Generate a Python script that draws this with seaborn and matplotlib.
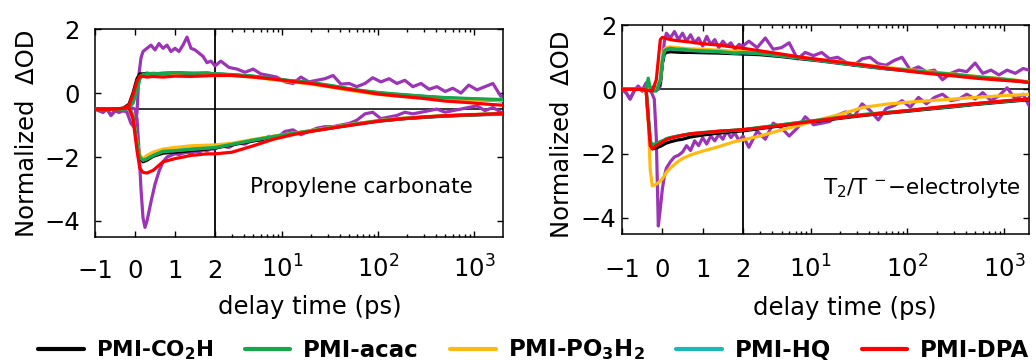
import numpy as np
import pandas as pd
import matplotlib
matplotlib.use("Agg")
import matplotlib.pyplot as plt
import seaborn as sns
from matplotlib.ticker import FixedLocator, NullFormatter
from matplotlib.lines import Line2D

# ---------------------------------------------------------------- data
# Propylene carbonate panel (left) -- smooth traces
PC_T = [-1.0, -0.6, -0.3, -0.15, -0.05, 0.05, 0.12, 0.2, 0.3, 0.45, 0.7, 1.0, 1.4, 1.8, 2.0,
        3, 5, 8, 13, 20, 35, 60, 100, 170, 300, 500, 900, 1400, 2000]
PC_CO2H_UP = [-0.5, -0.5, -0.48, -0.35, 0.0, 0.45, 0.6, 0.6, 0.62, 0.6, 0.62, 0.63, 0.62, 0.62, 0.6,
              0.57, 0.52, 0.44, 0.37, 0.32, 0.2, 0.08, -0.01, -0.06, -0.11, -0.16, -0.19, -0.22, -0.24]
PC_ACAC_UP = [-0.5, -0.5, -0.5, -0.45, -0.3, 0.1, 0.45, 0.58, 0.6, 0.62, 0.6, 0.64, 0.6, 0.63, 0.6,
              0.58, 0.53, 0.45, 0.38, 0.33, 0.22, 0.1, 0.02, -0.04, -0.1, -0.14, -0.17, -0.19, -0.2]
PC_PO3H2_UP = [-0.5, -0.5, -0.49, -0.42, -0.15, 0.3, 0.52, 0.56, 0.58, 0.55, 0.58, 0.6, 0.57, 0.6, 0.58,
               0.55, 0.5, 0.42, 0.35, 0.28, 0.17, 0.05, -0.04, -0.1, -0.14, -0.18, -0.21, -0.22, -0.23]
PC_HQ_UP = [-0.5, -0.5, -0.5, -0.46, -0.32, 0.08, 0.43, 0.57, 0.6, 0.6, 0.6, 0.62, 0.6, 0.62, 0.6,
            0.57, 0.52, 0.45, 0.38, 0.32, 0.21, 0.09, 0.01, -0.05, -0.1, -0.15, -0.18, -0.2, -0.21]
PC_DPA_UP = [-0.5, -0.5, -0.48, -0.38, -0.05, 0.38, 0.52, 0.52, 0.5, 0.52, 0.5, 0.53, 0.52, 0.54, 0.55,
             0.55, 0.5, 0.44, 0.36, 0.3, 0.18, 0.08, -0.03, -0.1, -0.17, -0.25, -0.3, -0.35, -0.38]
PC_CO2H_DN = [-0.5, -0.5, -0.48, -0.45, -0.7, -1.5, -2.0, -2.15, -2.1, -1.98, -1.88, -1.85, -1.8, -1.75, -1.72,
              -1.62, -1.5, -1.37, -1.27, -1.19, -1.08, -0.97, -0.88, -0.81, -0.76, -0.72, -0.69, -0.67, -0.65]
PC_ACAC_DN = [-0.5, -0.5, -0.5, -0.48, -0.75, -1.55, -2.0, -2.1, -2.05, -1.95, -1.82, -1.8, -1.75, -1.72, -1.7,
              -1.6, -1.47, -1.36, -1.26, -1.18, -1.07, -0.96, -0.87, -0.8, -0.75, -0.71, -0.68, -0.66, -0.64]
PC_PO3H2_DN = [-0.5, -0.5, -0.49, -0.46, -0.72, -1.5, -1.95, -2.05, -1.95, -1.85, -1.75, -1.7, -1.65, -1.63, -1.62,
               -1.57, -1.45, -1.35, -1.26, -1.17, -1.06, -0.95, -0.86, -0.79, -0.74, -0.7, -0.67, -0.66, -0.64]
PC_HQ_DN = [-0.5, -0.5, -0.5, -0.47, -0.74, -1.53, -2.0, -2.1, -2.05, -1.95, -1.83, -1.8, -1.76, -1.72, -1.7,
            -1.6, -1.47, -1.36, -1.26, -1.18, -1.07, -0.96, -0.87, -0.8, -0.75, -0.71, -0.68, -0.66, -0.64]
PC_DPA_DN = [-0.5, -0.5, -0.48, -0.45, -0.8, -1.8, -2.35, -2.48, -2.5, -2.42, -2.15, -2.05, -1.95, -1.9, -1.9,
             -1.85, -1.65, -1.45, -1.3, -1.2, -1.08, -0.98, -0.88, -0.81, -0.75, -0.71, -0.68, -0.66, -0.64]

# Propylene carbonate panel -- noisy purple reference traces
PC_TP = [-1.0, -0.9, -0.8, -0.7, -0.6, -0.5, -0.4, -0.3, -0.2, -0.1, 0.0, 0.05, 0.1, 0.15, 0.2, 0.25, 0.3,
         0.4, 0.5, 0.6, 0.7, 0.8, 0.9, 1.0, 1.1, 1.2, 1.3, 1.4, 1.5, 1.6, 1.7, 1.8, 1.9, 2.0,
         2.3, 2.8, 3.4, 4.1, 5, 6, 7.3, 8.8, 10.7, 13, 15.7, 19, 23, 28, 34, 41, 50, 60, 73, 88,
         107, 130, 157, 190, 230, 280, 340, 410, 500, 600, 730, 880, 1070, 1300, 1570, 1900]
PC_PURPLE_UP = [-0.5, -0.55, -0.6, -0.5, -0.7, -0.55, -0.6, -0.55, -0.6, -0.95, -1.1, -0.6, 0.6, 1.1, 1.3,
                1.35, 1.4, 1.5, 1.35, 1.55, 1.4, 1.5, 1.3, 1.4, 1.3, 1.5, 1.75, 1.4, 1.35, 1.25, 1.15, 0.95,
                1.0, 0.85,
                1.0, 0.8, 0.75, 0.65, 0.75, 0.6, 0.55, 0.5, 0.35, 0.3, 0.5, 0.35, 0.4, 0.45, 0.55, 0.28,
                0.3, 0.2, 0.3, 0.48, 0.35, 0.45, 0.3, 0.4, 0.2, 0.3, 0.12, 0.2, 0.05, 0.15, 0.0, 0.25,
                0.1, 0.2, 0.3, -0.1]
PC_PURPLE_DN = [-0.5, -0.55, -0.6, -0.5, -0.7, -0.55, -0.6, -0.55, -0.5, -0.45, -0.5, -0.8, -1.8, -3.0, -3.9,
                -4.2, -4.0, -3.4, -2.85, -2.45, -2.15, -2.0, -1.95, -1.9, -1.92, -1.88, -1.85, -1.9, -1.82,
                -1.85, -1.78, -1.8, -1.75, -1.75,
                -1.65, -1.7, -1.55, -1.6, -1.45, -1.5, -1.35, -1.4, -1.2, -1.15, -1.3, -1.2, -1.1, -1.05,
                -1.05, -1.0, -0.95, -0.85, -0.65, -0.6, -0.8, -0.75, -0.7, -0.6, -0.65, -0.6, -0.55, -0.5,
                -0.6, -0.55, -0.5, -0.45, -0.4, -0.55, -0.45, -0.6]

# T2/T- electrolyte panel (right) -- smooth traces
EL_T = [-1.0, -0.7, -0.5, -0.4, -0.35, -0.3, -0.25, -0.15, -0.05, 0.0, 0.05, 0.1, 0.2, 0.35, 0.5,
        0.7, 1.0, 1.4, 1.8, 2.0,
        3, 5, 8, 13, 20, 35, 60, 100, 170, 300, 500, 900, 1400, 1800]
EL_CO2H_UP = [0.0, 0.0, 0.0, 0.0, 0.02, 0.0, -0.02, -0.03, 0.2, 0.8, 1.1, 1.15, 1.17, 1.16, 1.15,
              1.15, 1.14, 1.13, 1.11, 1.1,
              1.08, 1.02, 0.95, 0.88, 0.81, 0.72, 0.64, 0.58, 0.51, 0.45, 0.38, 0.31, 0.26, 0.22]
EL_ACAC_UP = [0.0, 0.0, 0.0, 0.05, 0.35, 0.05, -0.05, -0.05, 0.3, 0.9, 1.2, 1.25, 1.28, 1.25, 1.25,
              1.22, 1.2, 1.18, 1.13, 1.15,
              1.12, 1.05, 0.98, 0.9, 0.83, 0.74, 0.66, 0.6, 0.53, 0.47, 0.4, 0.33, 0.27, 0.22]
EL_PO3H2_UP = [0.0, 0.0, 0.0, 0.0, 0.0, 0.0, -0.02, -0.02, 0.3, 0.95, 1.25, 1.3, 1.32, 1.3, 1.28,
               1.26, 1.25, 1.22, 1.18, 1.18,
               1.15, 1.07, 0.99, 0.92, 0.86, 0.77, 0.69, 0.62, 0.55, 0.48, 0.41, 0.34, 0.28, 0.24]
EL_HQ_UP = [0.0, 0.0, 0.0, 0.02, 0.1, 0.02, -0.03, -0.04, 0.28, 0.88, 1.18, 1.23, 1.26, 1.24, 1.23,
            1.21, 1.19, 1.17, 1.13, 1.14,
            1.11, 1.04, 0.97, 0.89, 0.82, 0.73, 0.65, 0.59, 0.52, 0.46, 0.39, 0.32, 0.26, 0.22]
EL_DPA_UP = [0.0, 0.0, 0.0, -0.02, -0.03, -0.05, -0.05, 0.3, 1.55, 1.62, 1.6, 1.58, 1.55, 1.52, 1.5,
             1.47, 1.42, 1.38, 1.31, 1.28,
             1.2, 1.1, 1.0, 0.92, 0.85, 0.76, 0.66, 0.57, 0.49, 0.42, 0.35, 0.29, 0.25, 0.22]
EL_CO2H_DN = [0.0, 0.0, 0.0, -0.05, -0.9, -1.7, -1.85, -1.82, -1.77, -1.74, -1.7, -1.67, -1.63, -1.58, -1.55,
              -1.48, -1.42, -1.36, -1.31, -1.29,
              -1.22, -1.13, -1.05, -0.97, -0.9, -0.81, -0.74, -0.68, -0.61, -0.54, -0.47, -0.4, -0.35, -0.32]
EL_ACAC_DN = [0.0, 0.0, 0.0, -0.05, -0.8, -1.6, -1.72, -1.68, -1.62, -1.6, -1.57, -1.53, -1.5, -1.46, -1.42,
              -1.38, -1.34, -1.3, -1.27, -1.25,
              -1.18, -1.1, -1.02, -0.94, -0.87, -0.78, -0.72, -0.66, -0.59, -0.52, -0.45, -0.38, -0.33, -0.3]
EL_PO3H2_DN = [0.0, 0.0, 0.0, -0.1, -1.0, -2.5, -3.0, -2.95, -2.85, -2.78, -2.68, -2.58, -2.45, -2.28, -2.15,
               -2.04, -1.92, -1.78, -1.62, -1.57,
               -1.45, -1.26, -1.1, -0.92, -0.78, -0.56, -0.46, -0.4, -0.35, -0.3, -0.25, -0.2, -0.17, -0.15]
EL_HQ_DN = [0.0, 0.0, 0.0, -0.05, -0.82, -1.62, -1.74, -1.7, -1.64, -1.61, -1.58, -1.54, -1.5, -1.46, -1.43,
            -1.38, -1.35, -1.31, -1.27, -1.26,
            -1.19, -1.1, -1.02, -0.95, -0.88, -0.79, -0.72, -0.66, -0.59, -0.52, -0.45, -0.38, -0.33, -0.3]
EL_DPA_DN = [0.0, 0.0, 0.0, -0.05, -0.9, -1.75, -1.85, -1.75, -1.68, -1.64, -1.6, -1.56, -1.52, -1.47, -1.43,
             -1.38, -1.35, -1.3, -1.27, -1.25,
             -1.2, -1.12, -1.04, -0.96, -0.88, -0.8, -0.73, -0.66, -0.58, -0.5, -0.44, -0.37, -0.32, -0.3]

# T2/T- electrolyte panel -- noisy purple reference traces
EL_TP = [-1.0, -0.9, -0.8, -0.7, -0.6, -0.5, -0.4, -0.3, -0.2, -0.15, -0.1, -0.05, 0.0, 0.05, 0.1,
         0.2, 0.3, 0.4, 0.5, 0.6, 0.7, 0.8, 0.9, 1.0, 1.1, 1.2, 1.3, 1.4, 1.5, 1.6, 1.7, 1.8, 1.9, 2.0,
         2.3, 2.8, 3.4, 4.1, 5, 6, 7.3, 8.8, 10.7, 13, 15.7, 19, 23, 28, 34, 41, 50, 60, 73, 88,
         107, 130, 157, 190, 230, 280, 340, 410, 500, 600, 730, 880, 1070, 1300, 1570, 1800]
EL_PURPLE_UP = [0.0, -0.1, -0.3, -0.05, 0.1, -0.05, 0.2, 0.0, 0.1, 0.05, 0.0, 0.1, 0.8, 1.5, 1.75,
                1.6, 1.8, 1.55, 1.75, 1.5, 1.7, 1.45, 1.6, 1.35, 1.65, 1.4, 1.55, 1.3, 1.5, 1.35, 1.45,
                1.25, 1.4, 1.35,
                1.5, 1.3, 1.6, 1.25, 1.3, 1.45, 0.95, 1.15, 1.05, 1.15, 0.95, 1.0, 0.85, 0.75, 0.95, 1.0,
                0.8, 0.75, 0.9, 1.0, 0.6, 0.7, 0.55, 0.6, 0.3, 0.5, 0.6, 0.55, 0.82, 0.5, 0.6, 0.45,
                0.6, 0.5, 0.65, 0.6]
EL_PURPLE_DN = [0.0, -0.1, -0.3, -0.05, 0.1, -0.05, 0.2, 0.0, -0.3, -1.5, -4.25, -3.7, -3.1, -2.7, -2.45,
                -2.25, -2.1, -2.05, -1.95, -1.75, -1.9, -1.6, -1.75, -1.5, -1.7, -1.45, -1.6, -1.4, -1.55,
                -1.3, -1.5, -1.35, -1.6, -1.45,
                -1.8, -1.3, -1.55, -1.05, -1.2, -1.45, -1.2, -0.85, -1.1, -1.05, -1.0, -0.8, -0.7, -0.85,
                -0.45, -0.65, -0.95, -0.6, -0.5, -0.35, -0.55, -0.25, -0.45, -0.25, -0.15, -0.35, -0.3,
                -0.15, -0.3, -0.1, -0.35, -0.2, 0.05, -0.3, -0.15, -0.5]

COMPOUNDS = ["PMI-CO2H", "PMI-acac", "PMI-PO3H2", "PMI-HQ", "PMI-DPA"]
LEGEND_LABELS = [r"PMI-CO$_\mathbf{2}$H", "PMI-acac", r"PMI-PO$_\mathbf{3}$H$_\mathbf{2}$",
                 "PMI-HQ", "PMI-DPA"]
X_TICKS = [-1, 0, 1, 2, 10, 100, 1000]
X_TICK_LABELS = ["\u22121", "0", "1", "2", r"$10^1$", r"$10^2$", r"$10^3$"]
X_MINOR = [3, 4, 5, 6, 7, 8, 9, 20, 30, 40, 50, 60, 70, 80, 90, 200, 300, 400, 500, 600, 700, 800, 900]
Y_TICKS = [-4, -2, 0, 2]
Y_TICK_LABELS = ["\u22124", "\u22122", "0", "2"]
PC_ZERO = -0.5   # position of the zero reference line in the left panel
EL_ZERO = 0.0

COLORS = {"purple": "#9B35B5", "PMI-CO2H": "#000000", "PMI-HQ": "#1CB8B8",
          "PMI-PO3H2": "#FDBA12", "PMI-acac": "#17A64A", "PMI-DPA": "#FF0000"}
DRAW_ORDER = ["purple", "PMI-CO2H", "PMI-HQ", "PMI-PO3H2", "PMI-acac", "PMI-DPA"]


def long_frame(t, tp, up, dn, pup, pdn):
    rows = []
    for name in COMPOUNDS:
        for band, vals in (("up", up[name]), ("dn", dn[name])):
            rows.append(pd.DataFrame({"t": t, "v": vals, "s": name, "band": band}))
    rows.append(pd.DataFrame({"t": tp, "v": pup, "s": "purple", "band": "up"}))
    rows.append(pd.DataFrame({"t": tp, "v": pdn, "s": "purple", "band": "dn"}))
    return pd.concat(rows, ignore_index=True)


pc_df = long_frame(PC_T, PC_TP,
                   dict(zip(COMPOUNDS, [PC_CO2H_UP, PC_ACAC_UP, PC_PO3H2_UP, PC_HQ_UP, PC_DPA_UP])),
                   dict(zip(COMPOUNDS, [PC_CO2H_DN, PC_ACAC_DN, PC_PO3H2_DN, PC_HQ_DN, PC_DPA_DN])),
                   PC_PURPLE_UP, PC_PURPLE_DN)
el_df = long_frame(EL_T, EL_TP,
                   dict(zip(COMPOUNDS, [EL_CO2H_UP, EL_ACAC_UP, EL_PO3H2_UP, EL_HQ_UP, EL_DPA_UP])),
                   dict(zip(COMPOUNDS, [EL_CO2H_DN, EL_ACAC_DN, EL_PO3H2_DN, EL_HQ_DN, EL_DPA_DN])),
                   EL_PURPLE_UP, EL_PURPLE_DN)

# ---------------------------------------------------------------- style
sns.set_style("ticks")
plt.rcParams["font.family"] = ["DejaVu Sans"]
plt.rcParams["mathtext.fontset"] = "dejavusans"
plt.rcParams["axes.linewidth"] = 1.1
for key in ["text.color", "axes.labelcolor", "xtick.color", "ytick.color", "axes.edgecolor",
            "xtick.labelcolor", "ytick.labelcolor"]:
    plt.rcParams[key] = "black"

K = 2.4  # linear units per decade in the log part


def fwd(x):
    x = np.asarray(x, dtype=float)
    return np.where(x <= 2, x, 2 + K * np.log10(np.maximum(x, 2) / 2))


def inv(y):
    y = np.asarray(y, dtype=float)
    return np.where(y <= 2, y, 2 * 10 ** ((np.maximum(y, 2) - 2) / K))


fig = plt.figure(figsize=(10.36, 3.64), dpi=100)
ax1 = fig.add_axes([0.0917, 0.349, 0.3938, 0.571])
ax2 = fig.add_axes([0.6004, 0.357, 0.3928, 0.574])

panels = [
    (ax1, pc_df, (-1, 2000), (-4.5, 1.95), PC_ZERO, "Propylene carbonate", (0.38, 0.24),
     29.5, 11, (-0.137, 0.5), (0.526, -0.28)),
    (ax2, el_df, (-1, 1800), (-4.5, 2.0), EL_ZERO, "T$_2$/T $^{-}$\u2212electrolyte", (0.494, 0.22),
     31, 4, (-0.118, 0.478), (0.547, -0.297)),
]

for ax, df, xl, yl, zero, txt, txtpos, xpad, ypad, ylab_xy, xlab_xy in panels:
    ax.axhline(zero, color="black", lw=1.1, zorder=1)
    ax.axvline(2, color="black", lw=1.3, zorder=1)
    sns.lineplot(data=df, x="t", y="v", hue="s", units="band", estimator=None,
                 hue_order=DRAW_ORDER, palette=COLORS, lw=2.3, legend=False, ax=ax, zorder=3)
    ax.set_xscale("function", functions=(fwd, inv))
    ax.set_xlim(*xl)
    ax.set_ylim(*yl)
    ax.xaxis.set_major_locator(FixedLocator(X_TICKS))
    ax.set_xticklabels(X_TICK_LABELS)
    ax.xaxis.set_minor_locator(FixedLocator(X_MINOR))
    ax.xaxis.set_minor_formatter(NullFormatter())
    ax.set_yticks(Y_TICKS)
    ax.set_yticklabels(Y_TICK_LABELS)
    ax.tick_params(which="both", direction="in", top=True, right=True, width=1.0, color="black",
                   labelcolor="black")
    ax.tick_params(which="major", length=4.5, labelsize=17.5)
    ax.tick_params(which="minor", length=2.5)
    ax.tick_params(axis="x", which="major", pad=xpad)
    ax.tick_params(axis="y", which="major", pad=ypad)
    for lab in ax.get_xticklabels():
        lab.set_va("baseline")
    for sp in ax.spines.values():
        sp.set_visible(True)
        sp.set_color("black")
    ax.set_xlabel("delay time (ps)", fontsize=17.5, color="black")
    ax.set_ylabel("Normalized  \u0394OD", fontsize=17.5, color="black")
    ax.yaxis.set_label_coords(*ylab_xy)
    ax.xaxis.set_label_coords(*xlab_xy)
    ax.text(txtpos[0], txtpos[1], txt, transform=ax.transAxes, ha="left", va="center",
            fontsize=15.5, color="black")

handles = [Line2D([], [], color=COLORS[c], lw=3) for c in COMPOUNDS]
leg = fig.legend(handles, LEGEND_LABELS, loc="center", bbox_to_anchor=(0.515, 1 - 350 / 364), ncol=5,
                 frameon=False, prop={"weight": "bold", "size": 16.5}, handlelength=2.0,
                 handletextpad=0.55, columnspacing=1.35)
leg.get_texts()[0].set_fontsize(15.5)
for t in leg.get_texts():
    t.set_color("black")

fig.savefig("out.png", dpi=100)
